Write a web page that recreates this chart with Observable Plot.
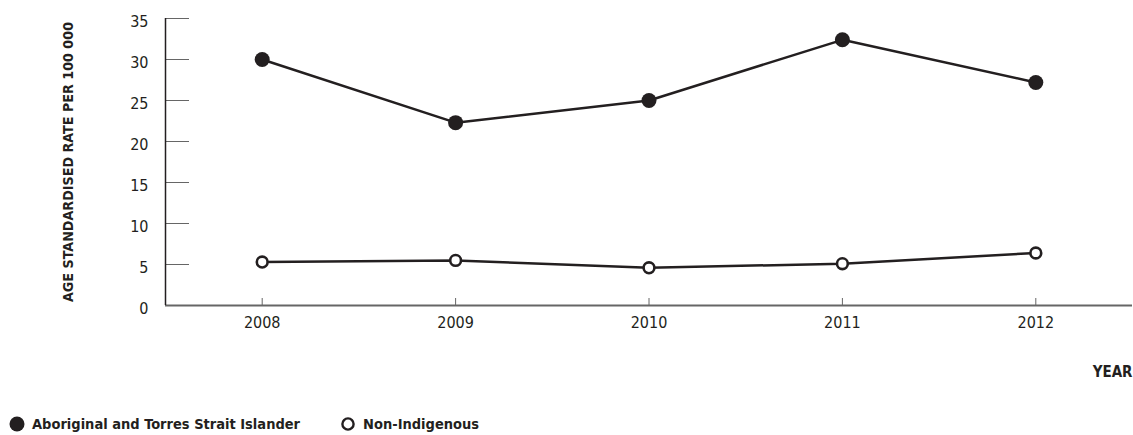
<!DOCTYPE html>
<html>
<head>
<meta charset="utf-8">
<script src="https://cdn.jsdelivr.net/npm/d3@7"></script>
<script src="https://cdn.jsdelivr.net/npm/@observablehq/plot@0.6"></script>
<style>
  html, body { margin: 0; padding: 0; background: #fff; }
  body { width: 1133px; height: 435px; position: relative; overflow: hidden;
         font-family: "DejaVu Sans Condensed", "Liberation Sans Narrow", sans-serif; color: #231f20; }
  #chart svg { display: block; }
  #legend { position: absolute; top: 416px; left: 9px; display: flex; align-items: center;
            font-weight: bold; font-size: 14.5px; color: #231f20; }
  .item { display: flex; align-items: center; }
  .item svg { display: block; margin-right: 7px; }
</style>
</head>
<body>
<div id="chart"></div>
<div id="legend"></div>
<script>
const years = [2008, 2009, 2010, 2011, 2012];
const aboriginal = [30.0, 22.3, 25.0, 32.4, 27.2];
const nonIndigenous = [5.3, 5.5, 4.6, 5.1, 6.4];
const yTicks = [0, 5, 10, 15, 20, 25, 30, 35];
const seriesNames = ["Aboriginal and Torres Strait Islander", "Non-Indigenous"];
const yTitle = "AGE STANDARDISED RATE PER 100 000";
const xTitle = "YEAR";

const ink = "#231f20";
const rows = [
  ...years.map((y, i) => ({year: y, value: aboriginal[i], series: seriesNames[0]})),
  ...years.map((y, i) => ({year: y, value: nonIndigenous[i], series: seriesNames[1]}))
];
const rowsA = rows.filter(d => d.series === seriesNames[0]);
const rowsN = rows.filter(d => d.series === seriesNames[1]);

const chart = Plot.plot({
  width: 1133,
  height: 400,
  marginTop: 18,
  marginBottom: 95,
  marginLeft: 165,
  marginRight: 1,
  style: {fontFamily: '"DejaVu Sans Condensed", "Liberation Sans Narrow", sans-serif', fontSize: "16px", color: ink, background: "#fff"},
  x: {domain: [2007.5, 2012.5]},
  y: {domain: [0, 35]},
  marks: [
    Plot.axisY({ticks: yTicks, tickSize: -24, tickFormat: () => "", stroke: "#666", label: null}),
    Plot.axisY({ticks: yTicks, tickSize: 0, tickPadding: 17, dy: 3, fill: ink, label: null, fontSize: 16}),
    Plot.axisX({ticks: years, tickFormat: d => String(d), tickSize: -7, tickPadding: 18, stroke: "#666", fill: ink, label: null, fontSize: 16}),
    Plot.ruleY([0], {stroke: "#666", strokeWidth: 2}),
    Plot.ruleX([2007.5], {stroke: ink, strokeWidth: 1.5}),
    Plot.line(rowsA, {x: "year", y: "value", stroke: ink, strokeWidth: 2.5}),
    Plot.line(rowsN, {x: "year", y: "value", stroke: ink, strokeWidth: 2.5}),
    Plot.dot(rowsA, {x: "year", y: "value", r: 7.5, fill: ink, stroke: "none"}),
    Plot.dot(rowsN, {x: "year", y: "value", r: 5.4, fill: "#fff", stroke: ink, strokeWidth: 2.6}),
    Plot.text([yTitle], {text: d => d, frameAnchor: "left", textAnchor: "middle", rotate: -90, dx: -97, fontWeight: "bold", fontSize: 14.2, fill: ink}),
    Plot.text([xTitle], {text: d => d, frameAnchor: "bottom-right", dy: 71, textAnchor: "end", fontWeight: "bold", fontSize: 15, fill: ink})
  ]
});
document.getElementById("chart").appendChild(chart);

const legend = document.getElementById("legend");
seriesNames.forEach((name, i) => {
  const item = document.createElement("div");
  item.className = "item";
  if (i > 0) item.style.marginLeft = "40px";
  const filled = i === 0;
  item.innerHTML = `<svg width="16" height="16" viewBox="0 0 16 16">${filled
    ? `<circle cx="8" cy="8" r="7.5" fill="${ink}"/>`
    : `<circle cx="8" cy="8" r="5.6" fill="#fff" stroke="${ink}" stroke-width="2.4"/>`}</svg><span>${name}</span>`;
  legend.appendChild(item);
});
</script>
</body>
</html>
